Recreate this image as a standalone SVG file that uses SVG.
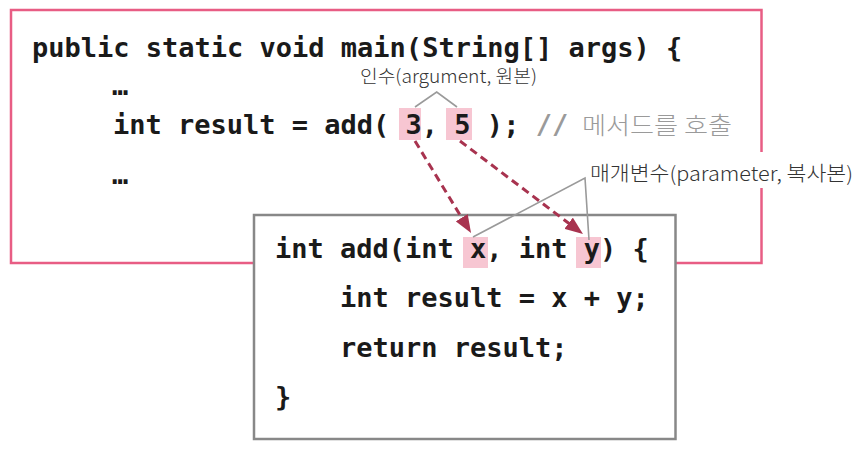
<svg xmlns="http://www.w3.org/2000/svg" width="859" height="449" viewBox="0 0 859 449">
<style>
.code{font-family:"DejaVu Sans Mono","Liberation Mono",monospace;font-size:27px;font-weight:bold;fill:#1a1a1a}
.ko{font-family:"Noto Sans CJK KR","Noto Sans",sans-serif;font-weight:300;fill:#333}
.hl{fill:#f7c6d2}
.brk{fill:none;stroke:#9a9a9a;stroke-width:1.6}
.arr{fill:none;stroke:#a8334f;stroke-width:3;stroke-dasharray:8 5}
</style>
<defs>
<marker id="ah" viewBox="0 0 18 14" markerWidth="18" markerHeight="14" refX="6" refY="7" orient="auto" markerUnits="userSpaceOnUse">
<path d="M0,0 L18,7 L0,14 z" fill="#a8334f"/>
</marker>
</defs>
<rect width="859" height="449" fill="#fff"/>
<g id="main-box">
<rect x="11" y="10" width="750.5" height="253" fill="#fff" stroke="#e85d84" stroke-width="2.5"/>
<rect class="hl" x="399" y="108" width="22" height="32"/>
<rect class="hl" x="446" y="108" width="26" height="32"/>
<text class="code" x="32" y="57">public static void main(String[] args) {</text>
<text class="code" x="112" y="95">…</text>
<text class="code" x="113" y="134">int result = add( 3, 5 ); <tspan fill="#9a9a9a">//</tspan></text>
<text class="ko" x="582" y="134" font-size="24" style="fill:#9a9a9a" textLength="150" lengthAdjust="spacingAndGlyphs">메서드를 호출</text>
<text class="code" x="112" y="184">…</text>
</g>
<g id="add-box">
<rect x="254" y="215" width="421.5" height="224" fill="#fff" stroke="#888" stroke-width="2.5"/>
<rect class="hl" x="463" y="237" width="25" height="31"/>
<rect class="hl" x="576" y="237" width="25" height="31"/>
<text class="code" x="275" y="258">int add(int x, int y) {</text>
<text class="code" x="340" y="307">int result = x + y;</text>
<text class="code" x="340" y="357">return result;</text>
<text class="code" x="275" y="406">}</text>
</g>
<g id="connectors">
<line class="arr" x1="415" y1="141" x2="464.8" y2="222.8" marker-end="url(#ah)"/>
<line class="arr" x1="460" y1="141" x2="573.4" y2="226.8" marker-end="url(#ah)"/>
<polyline class="brk" points="415,107 436.7,92 457,107"/>
<polyline class="brk" points="473,237 585,178 589,240"/>
</g>
<g id="label-argument">
<text class="ko" x="360" y="83" font-size="18" textLength="177" lengthAdjust="spacingAndGlyphs">인수(argument, 원본)</text>
</g>
<g id="label-parameter">
<rect x="754" y="152" width="16" height="36" fill="#fff"/>
<text class="ko" x="590" y="181" font-size="20" textLength="263" lengthAdjust="spacingAndGlyphs">매개변수(parameter, 복사본)</text>
</g>
</svg>
